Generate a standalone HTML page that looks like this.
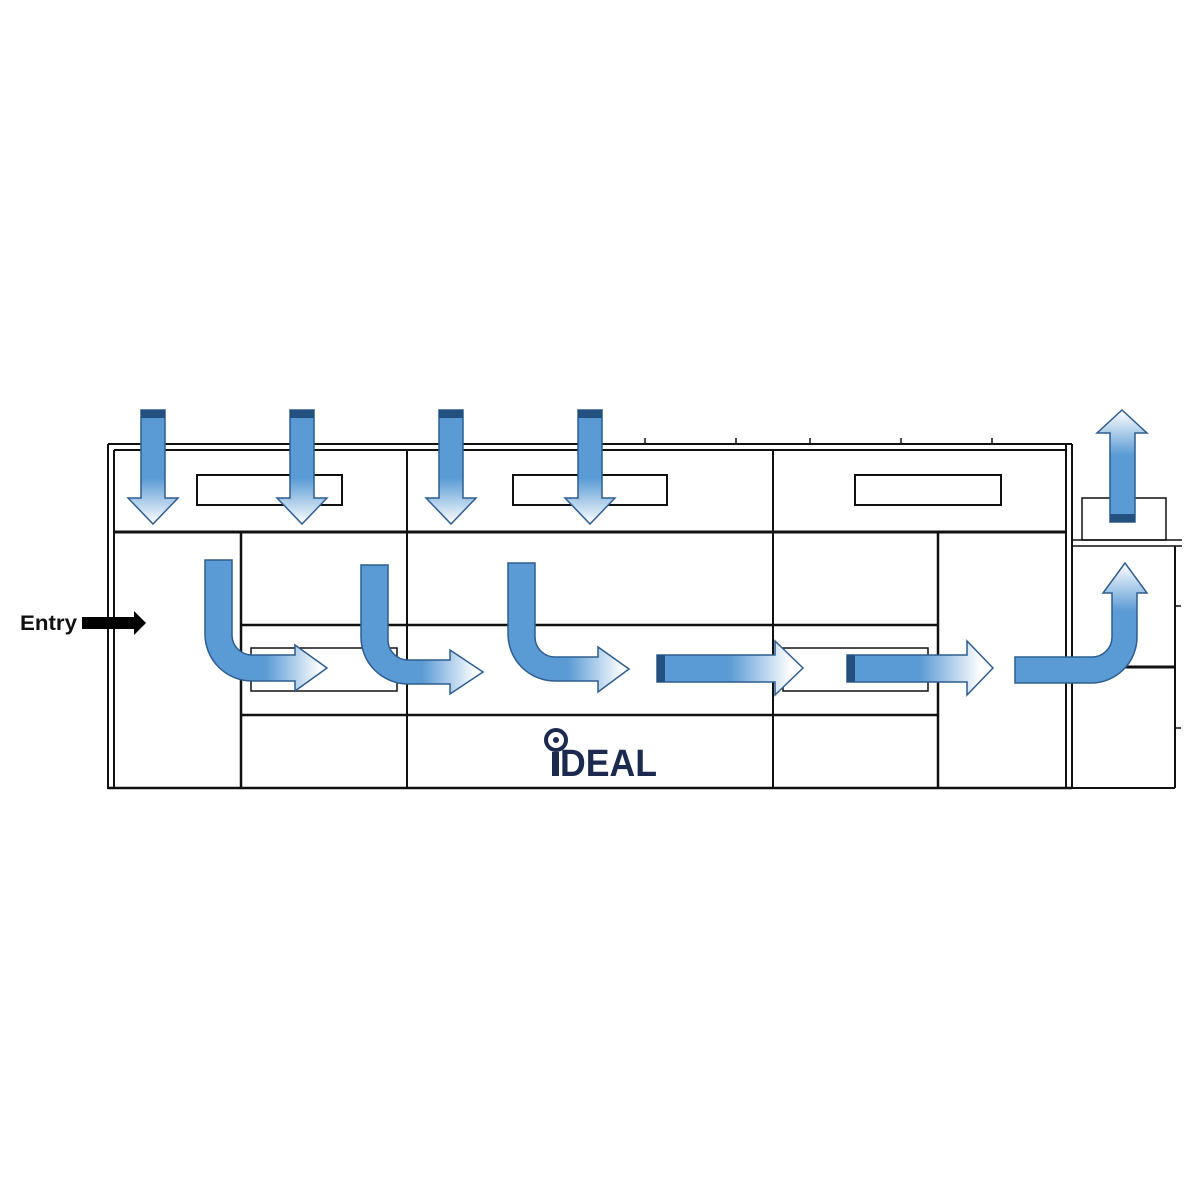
<!DOCTYPE html>
<html><head><meta charset="utf-8"><style>
html,body{margin:0;padding:0;background:#fff;}
svg{display:block;}
</style></head><body>
<svg width="1200" height="1200" viewBox="0 0 1200 1200" xmlns="http://www.w3.org/2000/svg">
<defs>
<linearGradient id="gd" x1="0" y1="0" x2="0" y2="1"><stop offset="0" stop-color="#5b9bd5"/><stop offset="0.6" stop-color="#5b9bd5"/><stop offset="1" stop-color="#fff"/></linearGradient>
<linearGradient id="gu" x1="0" y1="1" x2="0" y2="0"><stop offset="0" stop-color="#5b9bd5"/><stop offset="0.6" stop-color="#5b9bd5"/><stop offset="1" stop-color="#fff"/></linearGradient>
<linearGradient id="gr" x1="0" y1="0" x2="1" y2="0"><stop offset="0" stop-color="#5b9bd5"/><stop offset="0.5" stop-color="#5b9bd5"/><stop offset="0.95" stop-color="#fff"/></linearGradient>
<linearGradient id="gs" x1="0" y1="0" x2="1" y2="0"><stop offset="0" stop-color="#5b9bd5"/><stop offset="0.5" stop-color="#5b9bd5"/><stop offset="0.92" stop-color="#fff"/></linearGradient>
</defs>
<g fill="none" stroke="#111" stroke-width="2">
<line x1="108" y1="444" x2="108" y2="789"/>
<line x1="114" y1="450" x2="114" y2="789"/>
<line x1="108" y1="444" x2="1072" y2="444"/>
<line x1="114" y1="450" x2="1066" y2="450"/>
<line x1="1066" y1="444" x2="1066" y2="789"/>
<line x1="1072" y1="444" x2="1072" y2="789"/>
<line x1="108" y1="788" x2="1072" y2="788" stroke-width="2.5"/>
<line x1="114" y1="532" x2="1066" y2="532" stroke-width="3"/>
<line x1="407" y1="450" x2="407" y2="788"/>
<line x1="773" y1="450" x2="773" y2="788"/>
<line x1="241" y1="532" x2="241" y2="788" stroke-width="2.5"/>
<line x1="938" y1="532" x2="938" y2="788" stroke-width="2.5"/>
<line x1="241" y1="625" x2="938" y2="625" stroke-width="2.5"/>
<line x1="241" y1="715" x2="938" y2="715" stroke-width="2.5"/>
<rect x="197" y="475" width="145" height="30"/>
<rect x="513" y="475" width="154" height="30"/>
<rect x="855" y="475" width="146" height="30"/>
<rect x="251" y="648" width="146" height="43" stroke-width="1.5"/>
<rect x="783" y="648" width="145" height="43" stroke-width="1.5"/>
<line x1="645" y1="438" x2="645" y2="444" stroke-width="1.5"/>
<line x1="736" y1="438" x2="736" y2="444" stroke-width="1.5"/>
<line x1="810" y1="438" x2="810" y2="444" stroke-width="1.5"/>
<line x1="901" y1="438" x2="901" y2="444" stroke-width="1.5"/>
<line x1="992" y1="438" x2="992" y2="444" stroke-width="1.5"/>
<rect x="1082" y="498" width="84" height="42" stroke-width="1.5"/>
<line x1="1072" y1="540" x2="1182" y2="540" stroke-width="1.5"/>
<line x1="1072" y1="546" x2="1182" y2="546" stroke-width="1.5"/>
<line x1="1175" y1="546" x2="1175" y2="788"/>
<line x1="1072" y1="788" x2="1175" y2="788"/>
<line x1="1110" y1="667" x2="1175" y2="667" stroke-width="3"/>
<line x1="1175" y1="606" x2="1181" y2="606" stroke-width="1.5"/>
<line x1="1175" y1="728" x2="1181" y2="728" stroke-width="1.5"/>
</g>
<g stroke="#2e5d8e" stroke-width="1.5">
<path d="M141,410 H165 V498 H178 L153,524 L128,498 H141 Z" fill="url(#gd)"/>
<path d="M290,410 H314 V498 H327 L302,524 L277,498 H290 Z" fill="url(#gd)"/>
<path d="M439,410 H463 V498 H476 L451,524 L426,498 H439 Z" fill="url(#gd)"/>
<path d="M578,410 H602 V498 H615 L590,524 L565,498 H578 Z" fill="url(#gd)"/>
<path d="M1110,522 H1135 V433 H1147 L1122,410 L1097,433 H1110 Z" fill="url(#gu)"/>
<path d="M205,560 H232 V635 A20 20 0 0 0 252,655 H295 V645 L327,668 L295,691 V681 H252 A47 47 0 0 1 205,634 Z" fill="url(#gr)"/>
<path d="M361,565 H388 V640 A20 20 0 0 0 408,660 H450 V650 L483,672 L450,694 V684 H408 A47 47 0 0 1 361,637 Z" fill="url(#gr)"/>
<path d="M508,563 H535 V637 A20 20 0 0 0 555,657 H598 V647 L629,669 L598,692 V681 H555 A47 47 0 0 1 508,634 Z" fill="url(#gr)"/>
<path d="M657,655 H775 V641 L803,668 L775,695 V682 H657 Z" fill="url(#gs)"/>
<path d="M847,655 H967 V641 L993,668 L967,695 V682 H847 Z" fill="url(#gs)"/>
<path d="M1015,657 H1092 A20 20 0 0 0 1112,637 V593 H1103 L1125,563 L1147,593 H1137 V637 A46 46 0 0 1 1091,683 H1015 Z" fill="url(#gu)"/>
</g>
<g fill="#24507f">
<rect x="141" y="410" width="24" height="8"/><rect x="290" y="410" width="24" height="8"/>
<rect x="439" y="410" width="24" height="8"/><rect x="578" y="410" width="24" height="8"/>
<rect x="1110" y="514" width="25" height="8"/>
<rect x="657" y="655" width="8" height="27"/><rect x="847" y="655" width="8" height="27"/>
</g>
<text x="20" y="630" font-family="Liberation Sans, sans-serif" font-weight="bold" font-size="21" fill="#111" textLength="57" lengthAdjust="spacingAndGlyphs">Entry</text>
<path d="M82,617 H134 V611 L146,623 L134,635 V629 H82 Z" fill="#000"/>
<circle cx="556" cy="740" r="10" fill="none" stroke="#1b2a4e" stroke-width="4"/>
<circle cx="556" cy="740" r="3" fill="#1b2a4e"/>
<rect x="552" y="752" width="7" height="24" fill="#1b2a4e"/>
<text x="560" y="776" font-family="Liberation Sans, sans-serif" font-weight="bold" font-size="38" fill="#1b2a4e" textLength="97" lengthAdjust="spacingAndGlyphs">DEAL</text>
</svg>
</body></html>
